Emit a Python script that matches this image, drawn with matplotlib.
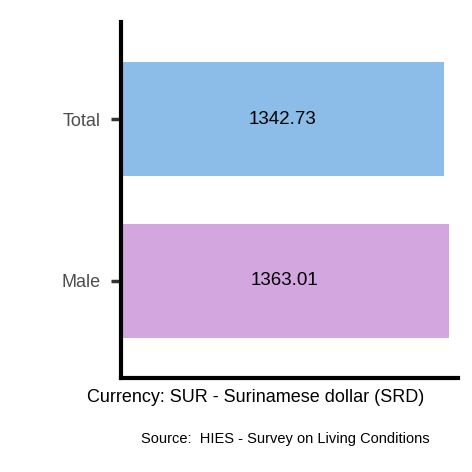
import matplotlib.pyplot as plt

plt.rcParams['font.family'] = ['Liberation Sans', 'DejaVu Sans']

categories = ["Male", "Total"]
values = [1363.01, 1342.73]
colors = ["#d4a6e0", "#8bbde8"]

fig = plt.figure(figsize=(4.72, 4.72), dpi=100)
ax = fig.add_axes([121/472, 94/472, 351/472, 356/472])

ypos = range(len(categories))
ax.barh(ypos, values, height=0.7, color=colors)
for y, v in zip(ypos, values):
    ax.text(v / 2, y, f"{v:.2f}", ha="center", va="center", fontsize=13.5, color="black")

ax.set_xlim(0, 1459)
ax.set_ylim(-0.6, 1.6)
ax.set_yticks(list(ypos))
ax.set_yticklabels(categories, fontsize=13, color="#4d4d4d")
ax.set_xticks([])
ax.tick_params(axis="y", length=7, width=2.5, color="#333333", pad=8)
for s in ["top", "right"]:
    ax.spines[s].set_visible(False)
ax.spines["left"].set_linewidth(3)
ax.spines["bottom"].set_linewidth(3)
ax.spines["bottom"].set_bounds(0, 1400)

fig.text(87/472, 1 - 397/472, "Currency: SUR - Surinamese dollar (SRD)", fontsize=13,
         ha="left", va="center")
fig.text(285/472, 1 - 439/472, "Source:  HIES - Survey on Living Conditions", fontsize=10.5,
         ha="center", va="center")

fig.savefig("out.png", dpi=100)
